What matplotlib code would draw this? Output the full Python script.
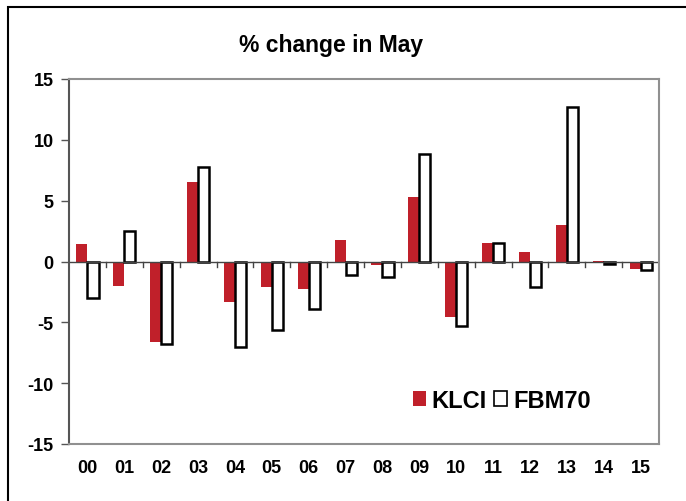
import matplotlib.pyplot as plt
import numpy as np
from matplotlib.patches import Rectangle

years = ["00", "01", "02", "03", "04", "05", "06", "07",
         "08", "09", "10", "11", "12", "13", "14", "15"]
klci = [1.4, -2.0, -6.6, 6.5, -3.3, -2.1, -2.3, 1.8,
        -0.3, 5.3, -4.6, 1.5, 0.8, 3.0, 0.05, -0.6]
fbm70 = [-3.0, 2.5, -6.8, 7.8, -7.0, -5.6, -3.9, -1.1,
         -1.3, 8.8, -5.3, 1.5, -2.1, 12.7, -0.2, -0.7]

plt.rcParams["font.family"] = ["Liberation Sans", "DejaVu Sans"]
plt.rcParams["font.weight"] = "bold"
plt.rcParams["axes.unicode_minus"] = False

fig = plt.figure(figsize=(6.86, 5.02), dpi=100)
# outer chart frame
fig.patches.append(Rectangle((8 / 686, -0.1), 1.2, 1.1 - 8 / 502, transform=fig.transFigure,
                             fill=False, edgecolor="black", linewidth=1.5))

ax = fig.add_axes([69 / 686, 1 - 445 / 502, 590 / 686, 365 / 502])
x = np.arange(len(years))
w = 0.3
ax.bar(x - w / 2, klci, w, color="#C0202A", label="KLCI")
ax.bar(x + w / 2, fbm70, w, color="white", edgecolor="black", linewidth=1.8, label="FBM70")

ax.set_xlim(-0.5, len(years) - 0.5)
ax.set_ylim(-15, 15)
ax.set_yticks(range(-15, 16, 5))
ax.tick_params(axis="y", labelsize=13, length=6, width=1, color="#555555", pad=5)

# category labels below the plot, x axis drawn at zero
ax.set_xticks([])
for i, lab in enumerate(years):
    ax.text(i, -16.2, lab, ha="center", va="top", fontsize=13, fontweight="bold")
ax.axhline(0, color="#444444", linewidth=1)
for b in np.arange(0.5, len(years) - 0.5, 1):
    ax.plot([b, b], [0, -0.45], color="#444444", linewidth=1)

for s in ["top", "right", "bottom"]:
    ax.spines[s].set_color("#909090")
    ax.spines[s].set_linewidth(1.5)
ax.spines["left"].set_color("#555555")
ax.spines["left"].set_linewidth(1.5)

ax.set_title("% change in May", fontsize=16.5, fontweight="bold", x=0.445, pad=20)

leg = ax.legend(loc="lower right", bbox_to_anchor=(0.92, 0.03), ncol=2, frameon=False,
                handlelength=0.55, handleheight=0.55, handletextpad=0.25,
                columnspacing=0.3, prop={"weight": "bold", "size": 17})
leg.legend_handles[1].set_linewidth(1.2)

fig.savefig("out.png", dpi=100)
